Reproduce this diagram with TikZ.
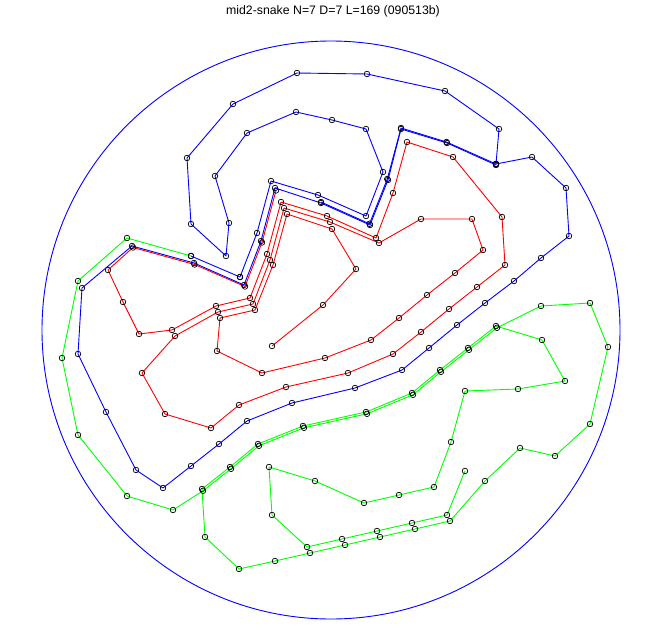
\documentclass[tikz,border=0pt]{standalone}
\usepackage{fontspec}
\setmainfont{Liberation Sans}
\usetikzlibrary{plotmarks}
\tikzset{
  snake/.style={line width=0.9pt, line join=round},
  pts/.style={mark=o, mark size=2.8pt, mark options={draw=black, line width=0.7pt, solid}},
}
\begin{document}
\begin{tikzpicture}[x=1pt,y=-1pt]
\useasboundingbox (0,0) rectangle (662,635);
\node[font=\fontsize{12.3}{14}\selectfont] (title) at (333,11) {mid2-snake N=7 D=7 L=169 (090513b)};
\draw[blue, line width=0.9pt] (331,330) circle (289);
% green
\draw[green, snake] plot[pts] coordinates {(465,471) (447,515) (412,523) (377,531) (342,539) (307,547) (272,515) (269,467) (315,481) (364,503) (399,495) (434,487) (451,442) (465,391) (518,389) (565,381) (542,340) (496,326) (468,348) (440,370) (412,393) (366,412) (303,426) (258,444) (230,467) (202,489) (205,537) (239,569) (275,561) (310,553) (345,545) (380,537) (415,529) (450,521) (485,481) (520,448) (555,456) (590,424) (608,347) (590,303) (541,306) (497,327.8) (469,349.8) (441,371.8) (413,394.8) (367,413.8) (304,427.8) (259,445.8) (231,468.8) (203,490.8) (173,510) (127,496) (78,435) (62,358) (78,281) (127,238) (191,256)};
% red
\draw[red, snake] plot[pts] coordinates {(272,346) (323,305) (356,269) (332,229) (287,214) (273,265) (255,310) (220,318) (217,351) (262,373) (325,358) (371,340) (399,318) (427,295) (455,273) (483,250) (472,219) (421,219) (379,243) (330,222) (284,208) (270,260) (253,304) (218,312) (175,336) (142,373) (165,414) (211,428) (239,405) (286,387) (348,373) (393,354) (421,332) (449,309) (477,287) (505,265) (502,217) (453,157) (407,142) (393,193) (376,238) (327,216) (281,202) (267,254) (250,298) (216,306) (172,330) (139,334) (123,302) (108,270) (133,247.5) (194.5,264.5) (245,286.5) (262,242.5) (276,190.5)};
% blue
\draw[blue, snake] plot[pts] coordinates {(240,277) (257,233) (271,181) (318,195) (366,216) (383,172) (366,129) (332,120) (296,112) (247,133) (215,176) (229,223) (226,256) (191,224) (187,158) (233,104) (297,73) (367,74) (445,91) (499,129) (496,164)};
\draw[blue, snake] plot[pts] coordinates {(496,164) (532,157) (566,188) (569,236) (541,258) (514,281) (485,303) (457,325) (429,348) (402,370) (355,388) (292,403) (247,421) (219,444) (191,466) (163,488) (136,470) (106,412) (78,354) (82,288) (132,246) (194,263) (244,285) (261,241) (275,188) (321,203) (370,225) (388,180) (401,129) (447,143) (496,165)};
\draw[blue, snake] plot[pts] coordinates {(321,202) (369.5,223.8) (387.3,179) (401,128) (446.5,142) (496,164)};
\draw[blue, snake] plot[pts] coordinates {(191,256) (240,277)};
\end{tikzpicture}
\end{document}
